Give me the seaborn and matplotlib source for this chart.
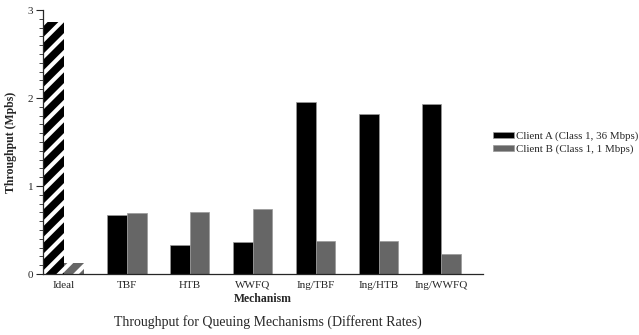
import matplotlib
matplotlib.use("Agg")
import matplotlib.pyplot as plt
import pandas as pd
import seaborn as sns
from matplotlib.ticker import MultipleLocator

# Data
mechanisms = ["Ideal", "TBF", "HTB", "WWFQ", "Ing/TBF", "Ing/HTB", "Ing/WWFQ"]
client_a = [2.86, 0.67, 0.33, 0.36, 1.95, 1.82, 1.93]
client_b = [0.125, 0.69, 0.70, 0.74, 0.38, 0.38, 0.23]
series = ["Client A (Class 1, 36 Mbps)", "Client B (Class 1, 1 Mbps)"]

df = pd.DataFrame({
    "Mechanism": mechanisms * 2,
    "Throughput": client_a + client_b,
    "Client": [series[0]] * len(mechanisms) + [series[1]] * len(mechanisms),
})

sns.set_style("ticks")
plt.rcParams["font.family"] = ["Liberation Serif", "DejaVu Serif"]
plt.rcParams["hatch.linewidth"] = 3.0

fig = plt.figure(figsize=(6.39, 3.35), dpi=100)
ax = fig.add_axes([43 / 639, 1 - 274 / 335, 440 / 639, 264 / 335])

sns.barplot(data=df, x="Mechanism", y="Throughput", hue="Client",
            palette=["black", "#666666"], width=0.63, gap=0,
            edgecolor="#999999", linewidth=0.5, ax=ax)

# hatch the "Ideal" bars with white stripes
for cont in ax.containers:
    bar = cont.patches[0]
    bar.set_hatch("//")
    bar.set_edgecolor("white")
    bar.set_linewidth(0)

ax.set_xlim(-0.33, 6.66)
ax.set_ylim(0, 3)
ax.yaxis.set_major_locator(MultipleLocator(1))
ax.yaxis.set_minor_locator(MultipleLocator(0.1))
ax.tick_params(axis="y", which="major", length=5, width=0.8, labelsize=8, pad=2)
ax.tick_params(axis="y", which="minor", length=3, width=0.6)
ax.tick_params(axis="x", length=0, labelsize=8, pad=5)
sns.despine(ax=ax)
ax.spines["left"].set_linewidth(0.9)
ax.spines["bottom"].set_linewidth(0.9)

ax.set_xlabel("Mechanism", fontsize=8.5, fontweight="bold", labelpad=2)
ax.set_ylabel("Throughput (Mpbs)", fontsize=8.5, fontweight="bold", labelpad=8)

handles, labels = ax.get_legend_handles_labels()
ax.legend(handles, labels, loc="upper left", bbox_to_anchor=(1.012, 0.555),
          frameon=False, fontsize=7.8, handlelength=2.0, handleheight=0.5,
          handletextpad=0.15, labelspacing=0.3, borderaxespad=0)

fig.text(268 / 639, 1 - 322 / 335, "Throughput for Queuing Mechanisms (Different Rates)",
         ha="center", va="center", fontsize=10)

fig.savefig("out.png", dpi=100)
